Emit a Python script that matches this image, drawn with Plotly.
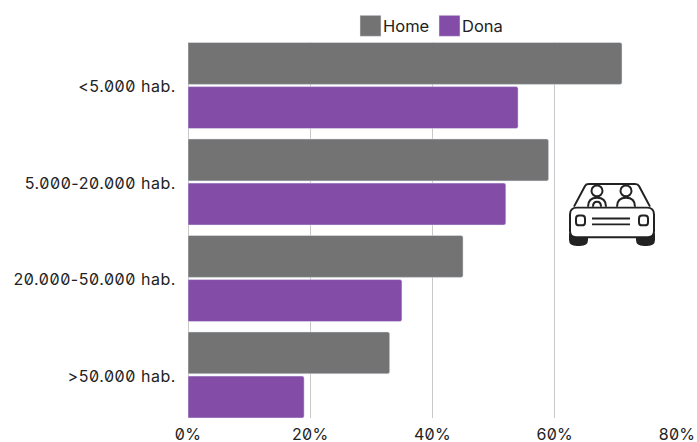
import base64
import plotly.graph_objects as go

categories = ["&lt;5.000 hab.", "5.000-20.000 hab.", "20.000-50.000 hab.", "&gt;50.000 hab."]
home = [71, 59, 45, 33]
dona = [54, 52, 35, 19]
x_ticks = [0, 20, 40, 60, 80]
x_labels = ["0%", "20%", "40%", "60%", "80%"]

GRAY = "#737373"
PURPLE = "#834ca6"
FONT = "Inter, Liberation Sans, sans-serif"

icon_svg = """<svg xmlns="http://www.w3.org/2000/svg" viewBox="0 0 88 66">
<g fill="none" stroke="#222" stroke-width="2">
<path fill="#222" d="M2 52 v6 q0 5 7 5 h3 q7 0 7-5 v-6z M69 52 v6 q0 5 7 5 h3 q7 0 7-5 v-6z"/>
<path d="M6 24 L17 3 Q18 1 21 1 H67 Q70 1 71 3 L82 24" />
<path fill="#fff" d="M2 32 Q2 25 9 25 H79 Q86 25 86 32 V49 Q86 55 80 55 H8 Q2 55 2 49 Z"/>
<rect x="8" y="33" width="9" height="10" rx="3"/>
<rect x="71" y="33" width="9" height="10" rx="3"/>
<path d="M24 36 H62 M24 42 H62"/>
<circle cx="29" cy="8" r="5.5"/><circle cx="58" cy="8" r="5.5"/>
<path d="M20 24 Q20 15 29 15 Q38 15 38 24 M25 24 Q25 19 29 19 Q33 19 33 24 M49 24 Q49 15 58 15 Q67 15 67 24"/>
</g></svg>"""
icon_uri = "data:image/svg+xml;base64," + base64.b64encode(icon_svg.encode()).decode()

fig = go.Figure()
fig.add_bar(name="Home", y=categories, x=home, orientation="h", marker_color=GRAY)
fig.add_bar(name="Dona", y=categories, x=dona, orientation="h", marker_color=PURPLE)

W, H = 697, 442
L, R, T, B = 188, 677, 42, 418
fig.update_layout(
    width=W, height=H,
    margin=dict(l=L, r=W - R, t=T, b=H - B, pad=0, autoexpand=False),
    autosize=False,
    paper_bgcolor="white", plot_bgcolor="white",
    barmode="group", bargap=0.085, bargroupgap=0.05, barcornerradius=2,
    font=dict(family=FONT, size=15, color="#222"),
    legend=dict(orientation="h", x=343 / W, xanchor="left", xref="container", y=0.941, yanchor="middle",
                yref="container", font=dict(size=16.5), traceorder="normal",
                bgcolor="rgba(0,0,0,0)", entrywidth=34, entrywidthmode="pixels"),
    images=[dict(source=icon_uri, xref="paper", yref="paper",
                 x=(568 - L) / (R - L), y=(B - 183) / (B - T),
                 sizex=88 / (R - L), sizey=65 / (B - T), xanchor="left", yanchor="top",
                 layer="above", sizing="stretch")],
)
fig.update_xaxes(range=[0, 80], tickmode="array", tickvals=x_ticks, ticktext=x_labels,
                 automargin=False, ticklabelstandoff=5,
                 showgrid=True, gridcolor="#c8c8c8", gridwidth=1, zeroline=True, zerolinecolor="#c8c8c8",
                 zerolinewidth=1, showline=False, ticks="", tickfont=dict(size=16))
fig.update_yaxes(type="category", categoryorder="array", categoryarray=categories,
                 automargin=False, ticklabelstandoff=11, ticklabelshift=-1,
                 range=[3.446, -0.451], showgrid=False, showline=False, ticks="", ticklen=0,
                 tickfont=dict(size=16))

css = """
var s=document.createElement('style');
s.textContent='html,body{margin:0;padding:0;}'
+'.xtick text,.ytick text{font-feature-settings:"zero" 1;}'
+'.ytick text{letter-spacing:0.55px;}'
+'.xtick text{letter-spacing:0.3px;}'
+'.legend .scrollbox{clip-path:none !important;}'
+'.legendpoints path{d:path("M18,10.5H-3V-10.5H18Z");}';
document.head.appendChild(s);
"""
fig.write_html("out.html", post_script=css, config={"displayModeBar": False})
